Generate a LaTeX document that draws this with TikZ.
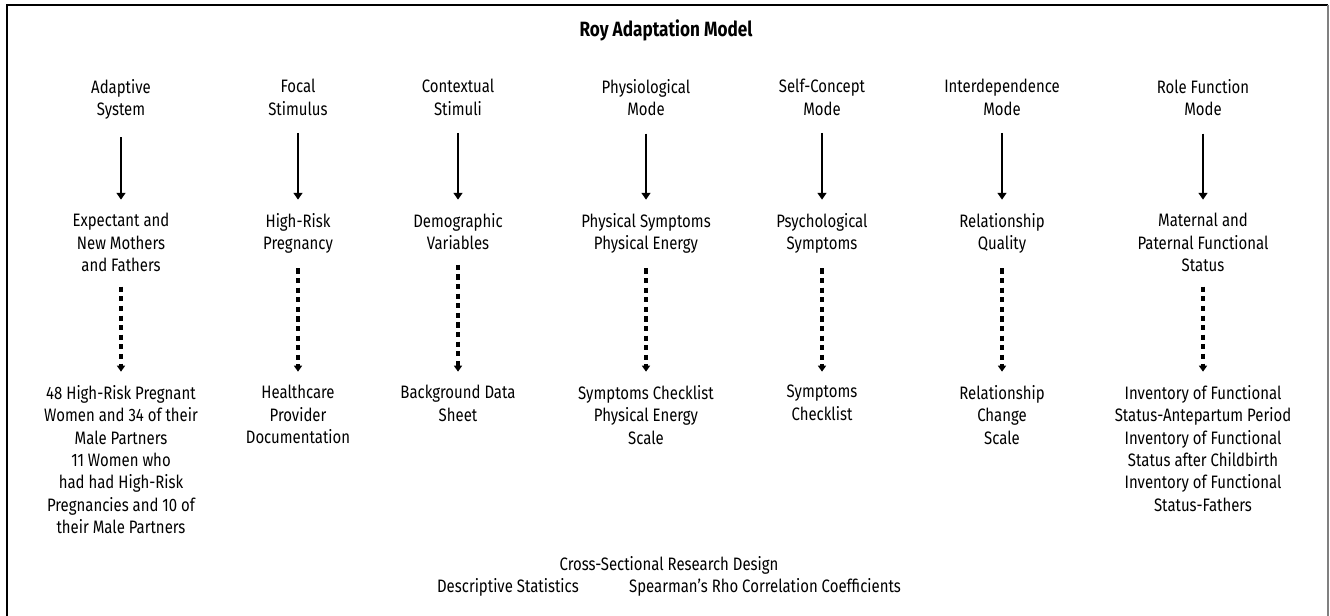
\documentclass[tikz,border=0pt]{standalone}
\usepackage{fontspec}
\setmainfont{Fira Sans}[FakeStretch=0.83]
\usetikzlibrary{arrows.meta}

\tikzset{
    txt/.style={anchor=north, inner sep=0pt, align=center,
        font=\fontsize{13.5}{16.8}\selectfont},
    solidarrow/.style={line width=1.6pt, -{Triangle[width=6.5pt,length=5pt]},
        shorten <=13pt, shorten >=10pt},
    dotarrow/.style={line width=2.5pt, dash pattern=on 3.8pt off 3.4pt,
        -{Triangle[width=6pt,length=4.5pt]}, shorten <=11pt, shorten >=10pt}
}

\begin{document}
\begin{tikzpicture}[x=0.75pt, y=-0.75pt]
        % 用像素坐标作图, 画布与原图同大
        \useasboundingbox (0,0) rectangle (1330,616);
        \draw[line width=2pt] (7,616) -- (7,5) -- (1328,5);
        \draw[gray, line width=1pt] (1328,5) -- (1328,616);

        \node[txt, font=\bfseries\fontsize{15.5}{18}\selectfont]
            (title) at (666,19) {Roy Adaptation Model};

        % 第一行: 模型的概念
        \node[txt] (as1) at (121,79) {Adaptive\\System};
        \node[txt] (fs1) at (298,79) {Focal\\Stimulus};
        \node[txt] (cs1) at (458,79) {Contextual\\Stimuli};
        \node[txt] (pm1) at (646,79) {Physiological\\Mode};
        \node[txt] (sc1) at (822,79) {Self-Concept\\Mode};
        \node[txt] (im1) at (1002,79) {Interdependence\\Mode};
        \node[txt] (rf1) at (1203,79) {Role Function\\Mode};

        % 第二行: 研究中的变量
        \node[txt] (as2) at (121,213) {Expectant and\\New Mothers\\and Fathers};
        \node[txt] (fs2) at (298,213) {High-Risk\\Pregnancy};
        \node[txt] (cs2) at (458,213) {Demographic\\Variables};
        \node[txt] (pm2) at (646,213) {Physical Symptoms\\Physical Energy};
        \node[txt] (sc2) at (822,213) {Psychological\\Symptoms};
        \node[txt] (im2) at (1002,213) {Relationship\\Quality};
        \node[txt] (rf2) at (1203,213) {Maternal and\\Paternal Functional\\Status};

        % 第三行: 样本与测量工具
        \node[txt] (as3) at (121,385) {48 High-Risk Pregnant\\Women and 34 of their\\Male Partners\\11 Women who\\had had High-Risk\\Pregnancies and 10 of\\their Male Partners};
        \node[txt] (fs3) at (298,385) {Healthcare\\Provider\\Documentation};
        \node[txt] (cs3) at (458,385) {Background Data\\Sheet};
        \node[txt] (pm3) at (646,385) {Symptoms Checklist\\Physical Energy\\Scale};
        \node[txt] (sc3) at (822,385) {Symptoms\\Checklist};
        \node[txt] (im3) at (1002,385) {Relationship\\Change\\Scale};
        \node[txt] (rf3) at (1203,385) {Inventory of Functional\\Status-Antepartum Period\\Inventory of Functional\\Status after Childbirth\\Inventory of Functional\\Status-Fathers};

        \node[txt] (design) at (669,556) {Cross-Sectional Research Design\\Descriptive Statistics\hspace{2.8em}Spearman’s Rho Correlation Coefficients};

        \foreach \c in {as,fs,cs,pm,sc,im,rf} {
            \draw[solidarrow] (\c1) -- (\c2);
            \draw[dotarrow] (\c2) -- (\c3);
        }
    \end{tikzpicture}
\end{document}
